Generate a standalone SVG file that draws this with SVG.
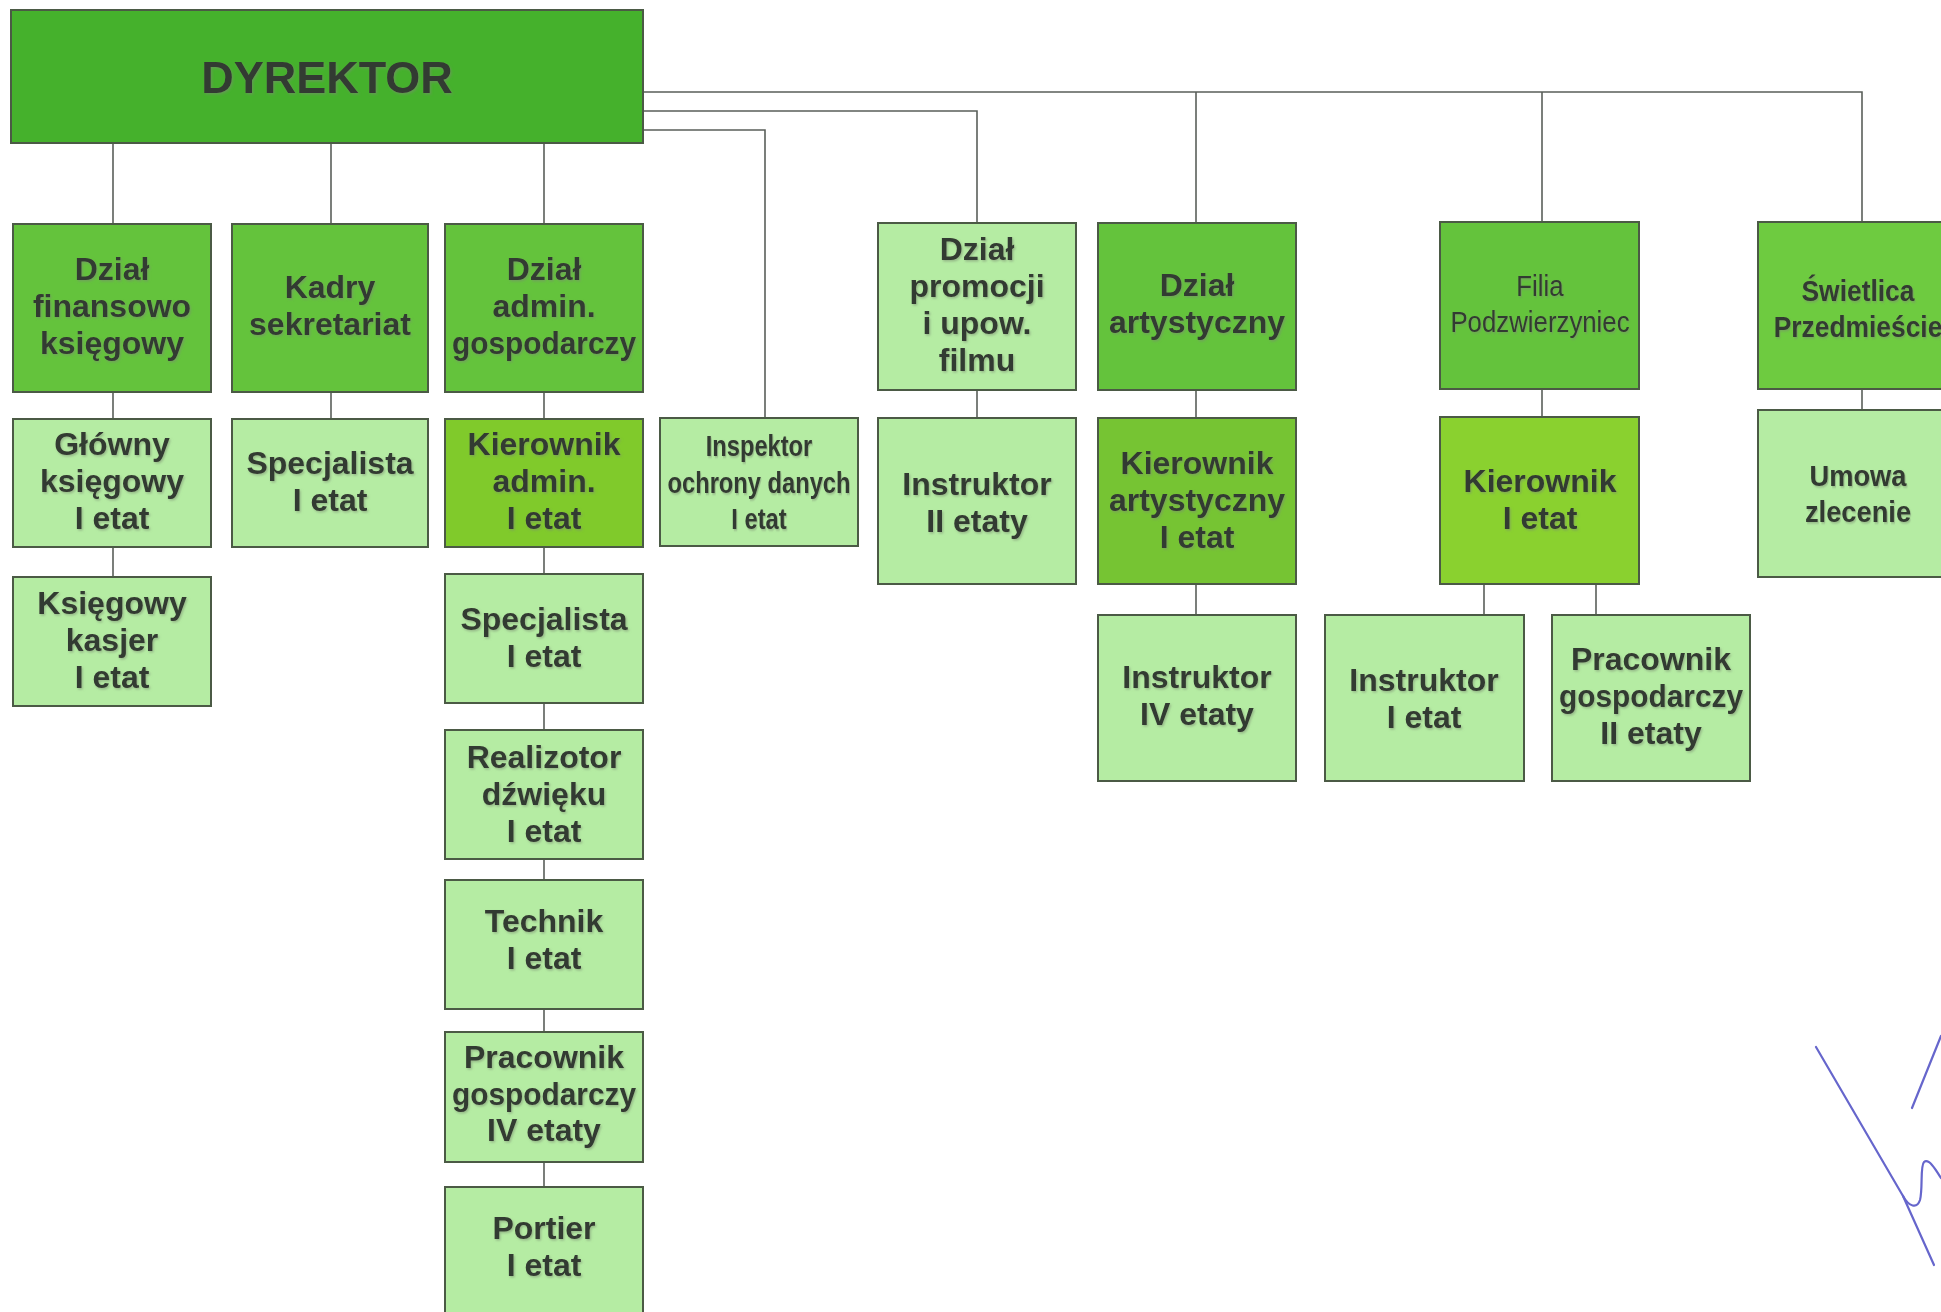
<svg xmlns="http://www.w3.org/2000/svg" width="1941" height="1312" viewBox="0 0 1941 1312">
<defs>
<filter id="sh" x="-10%" y="-10%" width="120%" height="130%">
<feDropShadow dx="1.2" dy="1.5" stdDeviation="0.8" flood-color="#7a8a70" flood-opacity="0.55"/>
</filter>
<style>
.box{stroke:#4b5a45;stroke-width:2}
.dir{fill:#45b12c}
.dk{fill:#64c33c}
.sw{fill:#6ecb40}
.lt{fill:#b5eca3}
.yg{fill:#80ca2b}
.yg2{fill:#8ad12f}
.ka{fill:#76c433}
.t{font-family:"Liberation Sans",Arial,Helvetica,sans-serif;font-weight:bold;font-size:32px;fill:#333a30;text-anchor:middle;filter:url(#sh)}
.n{font-size:30px}
.r{font-weight:normal}
.c{fill:none;stroke:#5a5f5a;stroke-width:1.6}
</style>
</defs>
<rect width="1941" height="1312" fill="#ffffff"/>
<g id="connectors" class="c">
<path d="M643,92 H1862 V222"/>
<path d="M1196,92 V223"/>
<path d="M1542,92 V222"/>
<path d="M643,111 H977 V223"/>
<path d="M643,130 H765 V418"/>
<path d="M113,143 V224 M113,392 V419 M113,547 V577"/>
<path d="M331,143 V224 M331,392 V419"/>
<path d="M544,143 V224 M544,392 V419 M544,547 V574 M544,703 V730 M544,859 V880 M544,1009 V1032 M544,1162 V1187"/>
<path d="M977,390 V418"/>
<path d="M1196,390 V418 M1196,584 V615"/>
<path d="M1542,389 V417"/>
<path d="M1484,584 V615 M1596,584 V615"/>
<path d="M1862,389 V410"/>
</g>
<g id="dyrektor"><rect class="box dir" x="11" y="10" width="632" height="133"/><text class="t" x="327" y="93" font-size="45" style="font-size:45px">DYREKTOR</text></g>
<g id="dzial-finansowo"><rect class="box dk" x="13" y="224" width="198" height="168"/><text class="t" x="112"><tspan x="112" y="280">Dział</tspan><tspan x="112" y="317">finansowo</tspan><tspan x="112" y="354">księgowy</tspan></text></g>
<g id="kadry"><rect class="box dk" x="232" y="224" width="196" height="168"/><text class="t" x="330"><tspan x="330" y="298">Kadry</tspan><tspan x="330" y="335">sekretariat</tspan></text></g>
<g id="dzial-admin"><rect class="box dk" x="445" y="224" width="198" height="168"/><text class="t" x="544"><tspan x="544" y="280">Dział</tspan><tspan x="544" y="317">admin.</tspan><tspan x="544" y="354" textLength="184" lengthAdjust="spacingAndGlyphs">gospodarczy</tspan></text></g>
<g id="dzial-promocji"><rect class="box lt" x="878" y="223" width="198" height="167"/><text class="t" x="977"><tspan x="977" y="260">Dział</tspan><tspan x="977" y="297">promocji</tspan><tspan x="977" y="334">i upow.</tspan><tspan x="977" y="371">filmu</tspan></text></g>
<g id="dzial-artystyczny"><rect class="box dk" x="1098" y="223" width="198" height="167"/><text class="t" x="1197"><tspan x="1197" y="296">Dział</tspan><tspan x="1197" y="333">artystyczny</tspan></text></g>
<g id="filia"><rect class="box dk" x="1440" y="222" width="199" height="167"/><g transform="translate(1540,0) scale(0.86,1)"><text class="t n r" x="0"><tspan x="0" y="296">Filia</tspan><tspan x="0" y="332">Podzwierzyniec</tspan></text></g></g>
<g id="swietlica"><rect class="box sw" x="1758" y="222" width="208" height="167"/><g transform="translate(1858,0) scale(0.88,1)"><text class="t n" x="0"><tspan x="0" y="301">Świetlica</tspan><tspan x="0" y="337">Przedmieście</tspan></text></g></g>
<g id="glowny-ksiegowy"><rect class="box lt" x="13" y="419" width="198" height="128"/><text class="t" x="112"><tspan x="112" y="455">Główny</tspan><tspan x="112" y="492">księgowy</tspan><tspan x="112" y="529">I etat</tspan></text></g>
<g id="specjalista-kadry"><rect class="box lt" x="232" y="419" width="196" height="128"/><text class="t" x="330"><tspan x="330" y="474">Specjalista</tspan><tspan x="330" y="511">I etat</tspan></text></g>
<g id="kierownik-admin"><rect class="box yg" x="445" y="419" width="198" height="128"/><text class="t" x="544"><tspan x="544" y="455">Kierownik</tspan><tspan x="544" y="492">admin.</tspan><tspan x="544" y="529">I etat</tspan></text></g>
<g id="inspektor"><rect class="box lt" x="660" y="418" width="198" height="128"/><g transform="translate(759,0) scale(0.79,1)"><text class="t n" x="0"><tspan x="0" y="456">Inspektor</tspan><tspan x="0" y="493">ochrony danych</tspan><tspan x="0" y="529">I etat</tspan></text></g></g>
<g id="instruktor-promocji"><rect class="box lt" x="878" y="418" width="198" height="166"/><text class="t" x="977"><tspan x="977" y="495">Instruktor</tspan><tspan x="977" y="532">II etaty</tspan></text></g>
<g id="kierownik-artystyczny"><rect class="box ka" x="1098" y="418" width="198" height="166"/><text class="t" x="1197"><tspan x="1197" y="474">Kierownik</tspan><tspan x="1197" y="511">artystyczny</tspan><tspan x="1197" y="548">I etat</tspan></text></g>
<g id="kierownik-filia"><rect class="box yg2" x="1440" y="417" width="199" height="167"/><text class="t" x="1540"><tspan x="1540" y="492">Kierownik</tspan><tspan x="1540" y="529">I etat</tspan></text></g>
<g id="umowa"><rect class="box lt" x="1758" y="410" width="208" height="167"/><g transform="translate(1858,0) scale(0.91,1)"><text class="t n" x="0"><tspan x="0" y="486">Umowa</tspan><tspan x="0" y="522">zlecenie</tspan></text></g></g>
<g id="ksiegowy-kasjer"><rect class="box lt" x="13" y="577" width="198" height="129"/><text class="t" x="112"><tspan x="112" y="614">Księgowy</tspan><tspan x="112" y="651">kasjer</tspan><tspan x="112" y="688">I etat</tspan></text></g>
<g id="specjalista-admin"><rect class="box lt" x="445" y="574" width="198" height="129"/><text class="t" x="544"><tspan x="544" y="630">Specjalista</tspan><tspan x="544" y="667">I etat</tspan></text></g>
<g id="realizator"><rect class="box lt" x="445" y="730" width="198" height="129"/><text class="t" x="544"><tspan x="544" y="768">Realizotor</tspan><tspan x="544" y="805">dźwięku</tspan><tspan x="544" y="842">I etat</tspan></text></g>
<g id="technik"><rect class="box lt" x="445" y="880" width="198" height="129"/><text class="t" x="544"><tspan x="544" y="932">Technik</tspan><tspan x="544" y="969">I etat</tspan></text></g>
<g id="pracownik-admin"><rect class="box lt" x="445" y="1032" width="198" height="130"/><text class="t" x="544"><tspan x="544" y="1068">Pracownik</tspan><tspan x="544" y="1105" textLength="184" lengthAdjust="spacingAndGlyphs">gospodarczy</tspan><tspan x="544" y="1141">IV etaty</tspan></text></g>
<g id="portier"><rect class="box lt" x="445" y="1187" width="198" height="140"/><text class="t" x="544"><tspan x="544" y="1239">Portier</tspan><tspan x="544" y="1276">I etat</tspan></text></g>
<g id="instruktor-artystyczny"><rect class="box lt" x="1098" y="615" width="198" height="166"/><text class="t" x="1197"><tspan x="1197" y="688">Instruktor</tspan><tspan x="1197" y="725">IV etaty</tspan></text></g>
<g id="instruktor-filia"><rect class="box lt" x="1325" y="615" width="199" height="166"/><text class="t" x="1424"><tspan x="1424" y="691">Instruktor</tspan><tspan x="1424" y="728">I etat</tspan></text></g>
<g id="pracownik-filia"><rect class="box lt" x="1552" y="615" width="198" height="166"/><text class="t" x="1651"><tspan x="1651" y="670">Pracownik</tspan><tspan x="1651" y="707" textLength="184" lengthAdjust="spacingAndGlyphs">gospodarczy</tspan><tspan x="1651" y="744">II etaty</tspan></text></g>
<g id="signature" fill="none" stroke="#6666cc" stroke-width="2.2" stroke-linecap="round">
<path d="M1816,1047 L1903,1196 C1909,1207 1917,1209 1920,1200 C1923,1188 1920,1166 1924,1162 C1929,1158 1936,1170 1941,1178"/>
<path d="M1903,1196 L1934,1265"/>
<path d="M1912,1108 L1941,1036"/>
</g>
</svg>
